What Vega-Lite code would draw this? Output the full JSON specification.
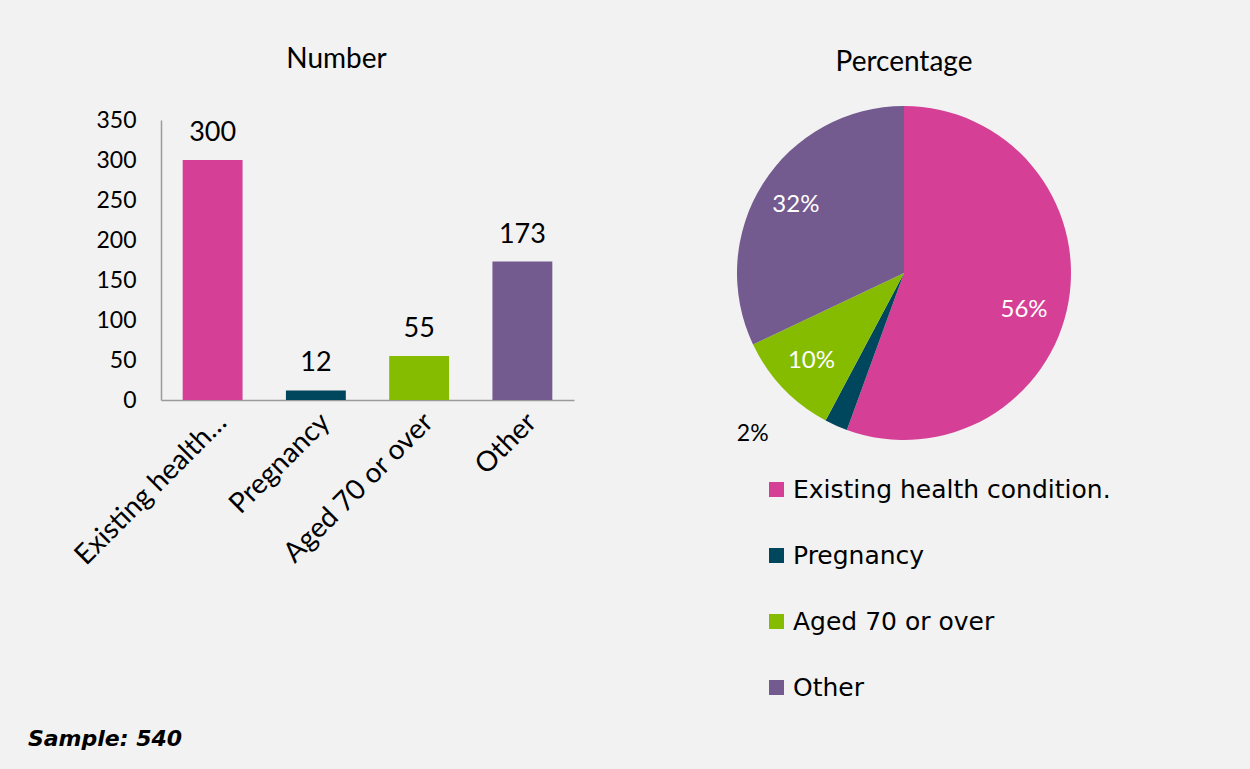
{
  "$schema": "https://vega.github.io/schema/vega-lite/v6.json",
  "background": "#f2f2f2",
  "padding": {"left": 27, "top": 46, "right": 150, "bottom": 22},
  "datasets": {
    "d": [
      {"cat": "Existing health condition.", "n": 300, "lbl": "56%", "ord": 1},
      {"cat": "Pregnancy", "n": 12, "lbl": "2%", "ord": 2},
      {"cat": "Aged 70 or over", "n": 55, "lbl": "10%", "ord": 3},
      {"cat": "Other", "n": 173, "lbl": "32%", "ord": 4}
    ]
  },
  "title": {
    "text": "Sample: 540",
    "orient": "bottom",
    "anchor": "start",
    "font": "DejaVu Sans",
    "fontSize": 22,
    "fontStyle": "italic",
    "fontWeight": "bold",
    "color": "#000000",
    "dx": -42,
    "offset": 28
  },
  "bounds": "flush",
  "spacing": 163,
  "resolve": {"scale": {"color": "independent"}, "legend": {"color": "independent"}},
  "hconcat": [
    {
      "width": 413,
      "height": 294,
      "data": {"name": "d"},
      "title": {"text": "Number", "font": "Lato", "fontSize": 28, "fontWeight": "normal", "color": "#000000", "offset": 32, "dx": -31},
      "layer": [
        {
          "mark": {"type": "bar"},
          "encoding": {
            "x": {"field": "cat", "type": "nominal", "sort": null,
              "scale": {"paddingInner": 0.42, "paddingOuter": 0.21},
              "axis": {"title": null, "labelAngle": -45, "labelFont": "Lato", "labelFontSize": 28, "labelColor": "#000000",
                "ticks": false, "domainColor": "#9b9b9b", "domainWidth": 1.5, "labelPadding": 8, "labelLimit": 400,
                "labelExpr": "datum.label == 'Existing health condition.' ? 'Existing health…' : datum.label"}},
            "y": {"field": "n", "type": "quantitative",
              "scale": {"domain": [0, 350], "range": [294, 14], "nice": false},
              "axis": {"title": null, "values": [0, 50, 100, 150, 200, 250, 300, 350], "grid": false, "ticks": false,
                "labelFont": "Lato", "labelFontSize": 23, "labelColor": "#000000", "labelPadding": 25,
                "domainColor": "#9b9b9b", "domainWidth": 1.5}},
            "color": {"field": "cat", "type": "nominal", "legend": null,
              "scale": {"domain": ["Existing health condition.", "Pregnancy", "Aged 70 or over", "Other"],
                "range": ["#d54096", "#00465c", "#85bc00", "#735a8f"]}}
          }
        },
        {
          "mark": {"type": "text", "font": "Lato", "fontSize": 27, "baseline": "alphabetic", "dy": -19, "color": "#000000"},
          "encoding": {
            "x": {"field": "cat", "type": "nominal", "sort": null},
            "y": {"field": "n", "type": "quantitative"},
            "text": {"field": "n", "type": "quantitative"}
          }
        }
      ]
    },
    {
      "width": 334,
      "height": 334,
      "data": {"name": "d"},
      "title": {"text": "Percentage", "font": "Lato", "fontSize": 28, "fontWeight": "normal", "color": "#000000", "offset": 29},
      "encoding": {
        "theta": {"field": "n", "type": "quantitative", "stack": true},
        "order": {"field": "ord", "type": "quantitative"}
      },
      "layer": [
        {
          "mark": {"type": "arc", "outerRadius": 167},
          "encoding": {
            "color": {"field": "cat", "type": "nominal", "sort": null,
              "scale": {"domain": ["Existing health condition.", "Pregnancy", "Aged 70 or over", "Other"],
                "range": ["#d54096", "#00465c", "#85bc00", "#735a8f"]},
              "legend": {"title": null, "orient": "none", "legendX": 27, "legendY": 371, "direction": "vertical",
                "symbolType": "square", "symbolSize": 225, "symbolStrokeWidth": 0,
                "labelFont": "DejaVu Sans", "labelFontSize": 25, "labelColor": "#000000", "labelLimit": 500,
                "rowPadding": 40, "labelOffset": 4}}
          }
        },
        {
          "mark": {"type": "text", "radius": 128, "font": "Lato", "fontSize": 24, "color": "#ffffff"},
          "encoding": {
            "text": {"condition": {"test": "datum.cat === 'Aged 70 or over' || datum.cat === 'Other'", "field": "lbl"}, "value": ""}
          }
        },
        {
          "mark": {"type": "text", "radius": 128, "font": "Lato", "fontSize": 24, "color": "#ffffff", "dx": -6, "dy": 15},
          "encoding": {
            "text": {"condition": {"test": "datum.cat === 'Existing health condition.'", "field": "lbl"}, "value": ""}
          }
        },
        {
          "mark": {"type": "text", "radius": 190, "font": "Lato", "fontSize": 23, "color": "#000000", "dx": -74, "dy": -13},
          "encoding": {
            "text": {"condition": {"test": "datum.cat === 'Pregnancy'", "field": "lbl"}, "value": ""}
          }
        }
      ]
    }
  ],
  "config": {"view": {"stroke": null}}
}
